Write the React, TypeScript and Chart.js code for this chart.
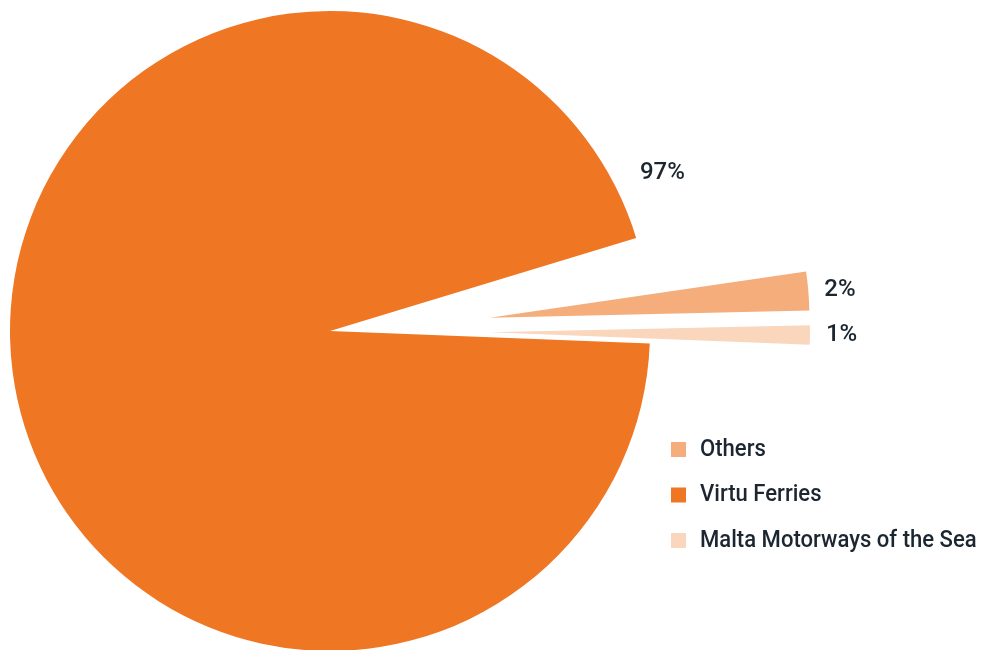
import React, { useEffect, useRef } from 'react';
import { Chart, registerables } from 'chart.js';

Chart.register(...registerables);

// ---- data (legend order) ----
const CATEGORIES = ['Others', 'Virtu Ferries', 'Malta Motorways of the Sea'];
const SHARES = [2, 97, 1];
const COLORS = ['#F5AD7B', '#EF7622', '#FAD6BD'];
// clockwise drawing order of the slices
const SLICE_ORDER = [0, 2, 1];
const EXPLODED = [true, false, true];

// ---- layout / style ----
const W = 981;
const H = 650;
const RADIUS = 320;
const EXPLODE_DIST = 160;
const ROTATION_DEG = 81.7;
const SWEEP_DEG = 351.4;
const FONT = '500 24px Roboto';
const LEGEND_SQUEEZE = 0.92;
const LABEL_SQUEEZE = 1;
const TEXT_COLOR = '#1c2631';
const LEGEND_X = 671;
const LEGEND_TEXT_X = 700;
const LEGEND_TOP = 449.5;
const LEGEND_GAP = 45.5;
const LEGEND_BOX = 15;

export default function App() {
  const ref = useRef<HTMLCanvasElement>(null);

  useEffect(() => {
    if (!ref.current) return;
    const labels = SLICE_ORDER.map((i) => CATEGORIES[i]);
    const data = SLICE_ORDER.map((i) => SHARES[i]);
    const colors = SLICE_ORDER.map((i) => COLORS[i]);
    const explode = SLICE_ORDER.map((i) => (EXPLODED[i] ? EXPLODE_DIST : 0));

    const explodePlugin = {
      id: 'explodeSlices',
      beforeDatasetsDraw(chart: any) {
        const meta = chart.getDatasetMeta(0);
        meta.data.forEach((arc: any, i: number) => {
          const dist = explode[i];
          if (!dist || arc.__exploded) return;
          arc.__exploded = true;
          const baseDraw = arc.draw;
          arc.draw = function (ctx: CanvasRenderingContext2D) {
            const mid = (this.startAngle + this.endAngle) / 2;
            ctx.save();
            ctx.translate(Math.cos(mid) * dist, Math.sin(mid) * dist);
            baseDraw.call(this, ctx);
            ctx.restore();
          };
        });
      },
    };

    const drawText = (
      ctx: CanvasRenderingContext2D,
      text: string,
      x: number,
      y: number,
      squeeze: number
    ) => {
      const w = ctx.measureText(text).width;
      ctx.fillText(text, x, y, w * squeeze);
    };

    const labelPlugin = {
      id: 'sliceLabels',
      afterDatasetsDraw(chart: any) {
        const ctx: CanvasRenderingContext2D = chart.ctx;
        const meta = chart.getDatasetMeta(0);
        ctx.save();
        ctx.font = FONT;
        ctx.textBaseline = 'middle';
        meta.data.forEach((arc: any, i: number) => {
          const { x, y, startAngle, endAngle, outerRadius } = arc.getProps(
            ['x', 'y', 'startAngle', 'endAngle', 'outerRadius'],
            true
          );
          const text = data[i] + '%';
          ctx.fillStyle = TEXT_COLOR;
          if (explode[i]) {
            const mid = (startAngle + endAngle) / 2;
            const r = explode[i] + outerRadius + 16;
            ctx.textAlign = 'left';
            drawText(ctx, text, x + Math.cos(mid) * r, y + Math.sin(mid) * r, LABEL_SQUEEZE);
          } else {
            const a = endAngle - (8.5 * Math.PI) / 180;
            const r = outerRadius + 48;
            ctx.textAlign = 'center';
            drawText(ctx, text, x + Math.cos(a) * r, y + Math.sin(a) * r, LABEL_SQUEEZE);
          }
        });
        CATEGORIES.forEach((name, i) => {
          const cy = LEGEND_TOP + i * LEGEND_GAP;
          ctx.fillStyle = COLORS[i];
          ctx.fillRect(LEGEND_X, cy - LEGEND_BOX / 2, LEGEND_BOX, LEGEND_BOX);
          ctx.fillStyle = TEXT_COLOR;
          ctx.textAlign = 'left';
          drawText(ctx, name, LEGEND_TEXT_X, cy, LEGEND_SQUEEZE);
        });
        ctx.restore();
      },
    };

    const chart = new Chart(ref.current, {
      type: 'pie',
      data: {
        labels,
        datasets: [
          {
            data,
            backgroundColor: colors,
            borderWidth: 0,
          },
        ],
      },
      options: {
        responsive: false,
        animation: false,
        events: [],
        rotation: ROTATION_DEG,
        circumference: SWEEP_DEG,
        radius: RADIUS,
        layout: { padding: { left: 0, right: 321, top: 12, bottom: 0 } },
        plugins: {
          legend: { display: false },
          tooltip: { enabled: false },
        },
      } as any,
      plugins: [explodePlugin, labelPlugin],
    });
    return () => chart.destroy();
  }, []);

  return (
    <div
      style={{
        position: 'fixed',
        left: 0,
        top: 0,
        width: W,
        height: H,
        background: '#ffffff',
      }}
    >
      <canvas ref={ref} width={W} height={H} />
    </div>
  );
}
